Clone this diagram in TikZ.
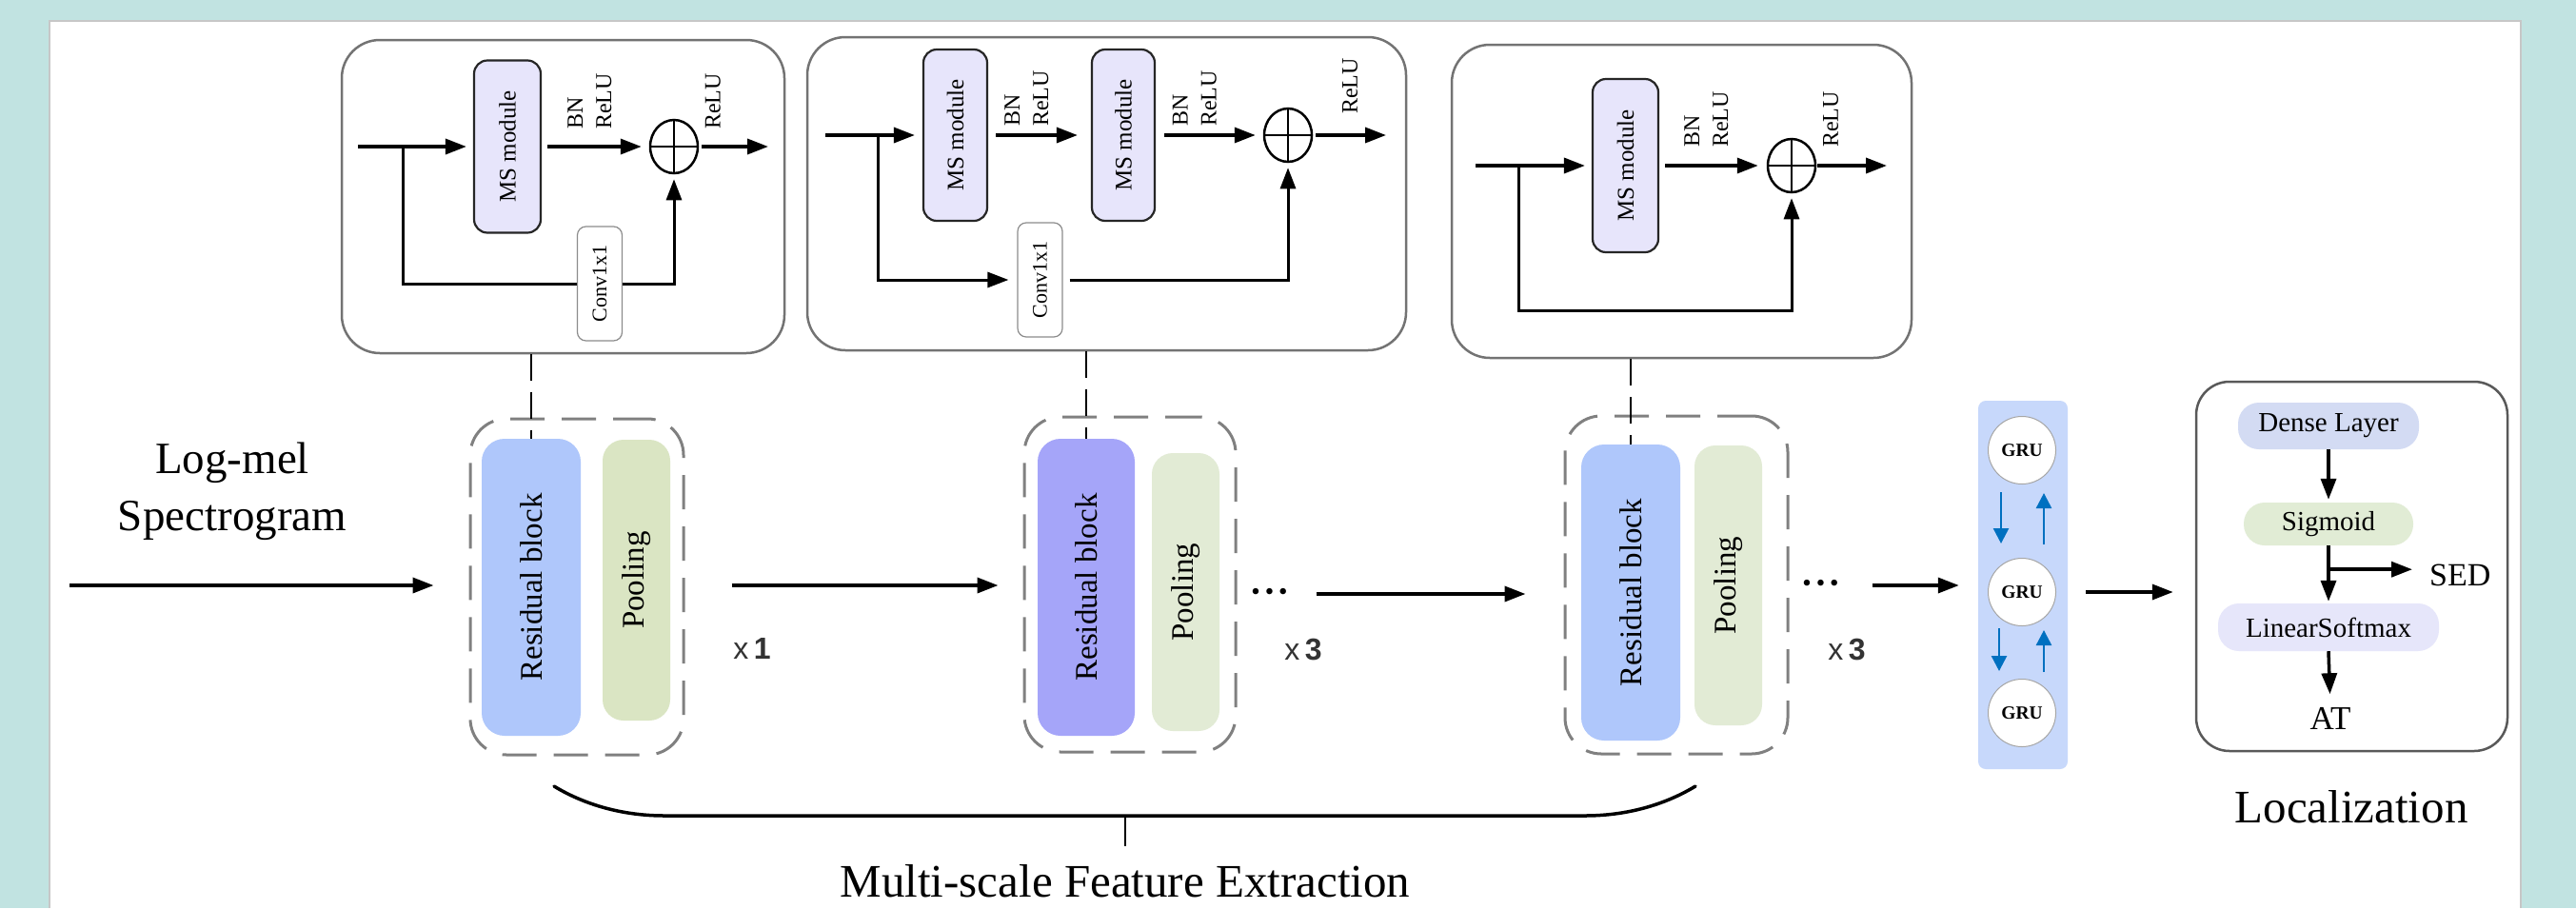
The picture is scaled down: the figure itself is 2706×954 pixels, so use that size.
\documentclass[tikz,border=0pt]{standalone}
\usepackage{fontspec}
\setmainfont{Liberation Serif}
\newfontfamily\sansfam{Liberation Sans}
\usepackage{graphicx}
\usetikzlibrary{arrows.meta,shapes.geometric}
\definecolor{bgteal}{HTML}{C1E3E1}
\definecolor{msfill}{HTML}{E7E5FB}
\definecolor{resA}{HTML}{AFC7FB}
\definecolor{resB}{HTML}{A5A5F9}
\definecolor{poolA}{HTML}{DAE5C3}
\definecolor{poolB}{HTML}{E2EBD5}
\definecolor{grufill}{HTML}{C7D8FB}
\definecolor{densef}{HTML}{D3DBF3}
\definecolor{sigf}{HTML}{E1ECD5}
\definecolor{lsmf}{HTML}{E6E6FA}
\definecolor{gblue}{HTML}{0070C0}
\newcommand\fsz[1]{\fontsize{#1}{#1}\selectfont}
\newcommand\vtext[1]{\rotatebox{90}{#1}}
\begin{document}
\begin{tikzpicture}[x=1pt,y=-1pt,
  outerbox/.style={draw=black!55, line width=2.5pt, fill=white, rounded corners=40pt, inner sep=0},
  msbox/.style={draw=black!85, line width=2.2pt, fill=msfill, rounded corners=14pt, inner sep=0, minimum width=69pt, minimum height=181pt, font=\fsz{25}},
  convbox/.style={draw=black!45, line width=1.2pt, fill=white, rounded corners=9pt, inner sep=0, minimum width=47pt, minimum height=120pt, font=\fsz{22}},
  oplus/.style={ellipse, draw, line width=2.5pt, minimum width=50pt, minimum height=56pt, inner sep=0,
    path picture={\draw[line width=2pt] (path picture bounding box.north) -- (path picture bounding box.south)
      (path picture bounding box.west) -- (path picture bounding box.east);}},
  arr/.style={-{Triangle[length=22pt,width=16pt]}, line width=3.5pt},
  skip/.style={line width=3pt},
  lbl/.style={inner sep=0, font=\fontsize{24}{30}\selectfont},
  grp/.style={draw=black!50, line width=3pt, dash pattern=on 36pt off 18pt, rounded corners=38pt, inner sep=0},
  blk/.style={inner sep=0, rounded corners=24pt, font=\fsz{33}},
  dlink/.style={line width=2pt, dash pattern=on 28pt off 12pt},
  xlab/.style={font=\sansfam\fsz{32}, text=black!80},
  dotsn/.style={inner sep=0, font=\fsz{27}},
  gru/.style={circle, draw=black!35, line width=1pt, fill=white, minimum size=71pt, inner sep=0, font=\bfseries\fsz{19.5}},
  barr/.style={draw=gblue, line width=2.5pt, -{Triangle[length=16pt,width=16pt]}, gblue},
  pill/.style={rounded corners=22pt, inner sep=0, font=\fsz{29}},
  brace/.style={line width=3.5pt, line cap=round}
]
\useasboundingbox (0,0) rectangle (2706,954);
\fill[bgteal] (0,0) rectangle (2706,954);
\fill[white] (52,22) rectangle (2648,954);
\draw[black!22, line width=1.5pt] (52,954) -- (52,22) -- (2648,22) -- (2648,954);

% ---------- top boxes ----------
\node[outerbox, minimum width=465pt, minimum height=329pt] (box1) at (591.5,206.5) {};
\node[outerbox, minimum width=629pt, minimum height=329pt] (box2) at (1162.5,203.5) {};
\node[outerbox, minimum width=483pt, minimum height=329pt] (box3) at (1766.5,211.5) {};

% box 1
\node[msbox, minimum width=70pt] (ms1) at (533,154) {\vtext{MS module}};
\node[convbox] (conv1) at (630,298) {\vtext{Conv1x1}};
\node[oplus] (op1) at (708,154) {};
\coordinate (in1) at (376,154);
\coordinate (br1) at (423,154);
\coordinate (out1) at (807,154);
\draw[arr, shorten >=7pt] (in1) -- (ms1.west);
\draw[arr, shorten <=6pt, shorten >=8pt] (ms1.east) -- (op1.west);
\draw[arr, shorten <=3pt] (op1.east) -- (out1);
\draw[skip] (br1) |- (conv1.west);
\draw[arr, skip, shorten >=5pt] (conv1.east) -| (op1.south);
\node[lbl, anchor=south] (bn1) at (621,136) {\vtext{\begin{tabular}{@{}l@{}}BN\\ReLU\end{tabular}}};
\node[lbl, anchor=south] (re1) at (749,136) {\vtext{ReLU}};

% box 2
\node[msbox, minimum width=67pt, minimum height=180pt] (ms2a) at (1003.5,142) {\vtext{MS module}};
\node[msbox, minimum width=66pt, minimum height=180pt] (ms2b) at (1180,142) {\vtext{MS module}};
\node[convbox] (conv2) at (1092.5,294) {\vtext{Conv1x1}};
\node[oplus] (op2) at (1353,142) {};
\coordinate (in2) at (867,142);
\coordinate (br2) at (922,142);
\coordinate (out2) at (1456,142);
\draw[arr, shorten >=8pt] (in2) -- (ms2a.west);
\draw[arr, shorten <=8pt, shorten >=14pt] (ms2a.east) -- (ms2b.west);
\draw[arr, shorten <=9pt, shorten >=8pt] (ms2b.east) -- (op2.west);
\draw[arr, shorten <=3pt] (op2.east) -- (out2);
\draw[arr, skip, shorten >=9pt] (br2) |- (conv2.west);
\draw[arr, skip, shorten <=7pt, shorten >=5pt] (conv2.east) -| (op2.south);
\node[lbl, anchor=south] (bn2a) at (1080,133) {\vtext{\begin{tabular}{@{}l@{}}BN\\ReLU\end{tabular}}};
\node[lbl, anchor=south] (bn2b) at (1256.5,133) {\vtext{\begin{tabular}{@{}l@{}}BN\\ReLU\end{tabular}}};
\node[lbl, anchor=south] (re2) at (1418,120) {\vtext{ReLU}};

% box 3
\node[msbox, minimum width=69pt, minimum height=182pt] (ms3) at (1707.5,174) {\vtext{MS module}};
\node[oplus] (op3) at (1882,174) {};
\coordinate (in3) at (1550,174);
\coordinate (br3) at (1595,174);
\coordinate (k3) at (1595,326);
\coordinate (out3) at (1982,174);
\draw[arr, shorten >=7pt] (in3) -- (ms3.west);
\draw[arr, shorten <=6pt, shorten >=9pt] (ms3.east) -- (op3.west);
\draw[arr, shorten <=1pt] (op3.east) -- (out3);
\draw[arr, skip, shorten >=5pt] (br3) -- (k3) -| (op3.south);
\node[lbl, anchor=south] (bn3) at (1794,155) {\vtext{\begin{tabular}{@{}l@{}}BN\\ReLU\end{tabular}}};
\node[lbl, anchor=south] (re3) at (1923,155) {\vtext{ReLU}};

% ---------- lower row ----------
\node[grp, minimum width=224pt, minimum height=353pt] (grp1) at (606,616.5) {};
\node[grp, minimum width=222pt, minimum height=352pt] (grp2) at (1187,614) {};
\node[grp, minimum width=234pt, minimum height=355pt] (grp3) at (1761,614.5) {};

\node[blk, fill=resA, minimum width=104pt, minimum height=312pt] (res1) at (558,617) {\vtext{Residual block}};
\node[blk, fill=poolA, minimum width=71pt, minimum height=295pt, rounded corners=22pt] (pool1) at (668.5,609.5) {\vtext{Pooling}};
\node[blk, fill=resB, minimum width=102pt, minimum height=312pt] (res2) at (1141,617) {\vtext{Residual block}};
\node[blk, fill=poolB, minimum width=71pt, minimum height=292pt, rounded corners=22pt] (pool2) at (1245.5,622) {\vtext{Pooling}};
\node[blk, fill=resA, minimum width=104pt, minimum height=311pt] (res3) at (1713,622.5) {\vtext{Residual block}};
\node[blk, fill=poolB, minimum width=71pt, minimum height=294pt, rounded corners=22pt] (pool3) at (1815.5,615) {\vtext{Pooling}};

\draw[dlink] (box1.south -| res1.north) -- (res1.north);
\draw[dlink] (box2.south -| res2.north) -- (res2.north);
\draw[dlink] (box3.south -| res3.north) -- (res3.north);

\node[align=center, font=\fontsize{47}{60}\selectfont] (logmel) at (244,516) {Log-mel\\Spectrogram};
\coordinate (start) at (73,615);
\draw[arr, shorten >=37pt] (start) -- (start -| grp1.west);
\draw[arr, shorten <=49pt, shorten >=26pt] (start -| grp1.east) -- (start -| grp2.west);
\node[xlab] (x1) at (790,681) {x\,\textbf{1}};
\node[dotsn] (dots2) at (1333.5,624) {\textbullet\hspace{5pt}\textbullet\hspace{5pt}\textbullet};
\node[xlab] (x3a) at (1369,682) {x\,\textbf{3}};
\draw[arr, shorten <=49pt, shorten >=40pt] (dots2.center) -- (dots2.center -| grp3.west);
\node[dotsn] (dots3) at (1912.5,615) {\textbullet\hspace{5pt}\textbullet\hspace{5pt}\textbullet};
\node[xlab] (x3b) at (1940,682) {x\,\textbf{3}};

% ---------- GRU ----------
\node[fill=grufill, rounded corners=8pt, minimum width=94pt, minimum height=387pt, inner sep=0] (gruP) at (2125,614.5) {};
\draw[arr, shorten <=54pt, shorten >=20pt] (dots3.center) -- (dots3.center -| gruP.west);
\node[gru] (gru1) at (2124,473) {GRU};
\node[gru] (gru2) at (2124,622) {GRU};
\node[gru] (gru3) at (2124,749) {GRU};
\draw[barr] ([xshift=-22pt,yshift=-8pt]gru1.south) -- ([xshift=-22pt,yshift=15pt]gru2.north);
\draw[barr] ([xshift=23pt,yshift=14pt]gru2.north) -- ([xshift=23pt,yshift=-9pt]gru1.south);
\draw[barr] ([xshift=-24pt,yshift=-2pt]gru2.south) -- ([xshift=-24pt,yshift=8pt]gru3.north);
\draw[barr] ([xshift=23pt,yshift=7pt]gru3.north) -- ([xshift=23pt,yshift=-4pt]gru2.south);

% ---------- Localization ----------
\node[draw=black!65, line width=2.5pt, rounded corners=35pt, minimum width=327pt, minimum height=388pt, inner sep=0] (loc) at (2470.5,595) {};
\draw[arr, shorten <=19pt, shorten >=23pt] (gru2 -| gruP.east) -- (gru2 -| loc.west);
\node[pill, fill=densef, minimum width=190pt, minimum height=49pt] (dense) at (2446,447.5) {Dense Layer};
\node[pill, fill=sigf, minimum width=178pt, minimum height=45pt] (sigm) at (2446,550.5) {Sigmoid};
\node[pill, fill=lsmf, minimum width=232pt, minimum height=50pt] (lsm) at (2446,659) {LinearSoftmax};
\node[anchor=west, inner sep=0, font=\fsz{34}] (sed) at (2552,604) {SED};
\node[inner sep=0, font=\fsz{35}] (at) at (2448,755) {AT};
\draw[arr, shorten >=3pt] (dense.south) -- (sigm.north);
\draw[arr, shorten >=2pt] (sigm.south) -- (lsm.north);
\path (sigm.south) ++(0,25) coordinate (brS);
\draw[arr, shorten >=18pt] (brS) -- (brS -| sed.west);
\draw[arr, shorten >=14pt] (lsm.south) -- (at.north);
\node[font=\fsz{49}] (locl) at (2470,848) {Localization};

% ---------- brace ----------
\draw[brace] (582,826) .. controls (615,846) and (655,857) .. (698,857) -- (1665,857) .. controls (1708,857) and (1748,846) .. (1781,826);
\coordinate (bm) at (1182,857);
\node[font=\fsz{49}] (mfe) at (1182,926) {Multi-scale Feature Extraction};
\draw[line width=1.5pt] (bm) -- ++(0,32);
\end{tikzpicture}
\end{document}
